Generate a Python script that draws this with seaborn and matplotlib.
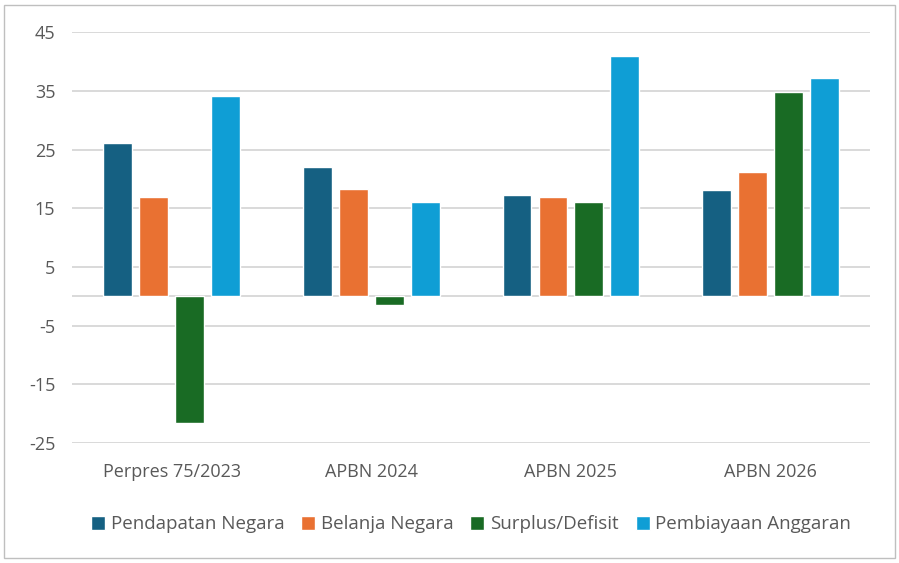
import pandas as pd
import matplotlib.pyplot as plt
import seaborn as sns
from matplotlib.patches import Rectangle

# data
groups = ['Perpres 75/2023', 'APBN 2024', 'APBN 2025', 'APBN 2026']
series = ['Pendapatan Negara', 'Belanja Negara', 'Surplus/Defisit', 'Pembiayaan Anggaran']
pendapatan = [26.1, 22.0, 17.2, 18.1]
belanja = [16.9, 18.2, 16.9, 21.1]
surplus = [-21.5, -1.5, 16.0, 34.8]
pembiayaan = [34.1, 16.0, 40.9, 37.1]
yticks = [45, 35, 25, 15, 5, -5, -15, -25]

colors = ['#156082', '#E97132', '#196B24', '#0F9ED5']

rows = []
for name, vals in zip(series, [pendapatan, belanja, surplus, pembiayaan]):
    for g, v in zip(groups, vals):
        rows.append({'group': g, 'series': name, 'value': v})
df = pd.DataFrame(rows)

sns.set_theme(style='white')
plt.rcParams['font.family'] = ['Open Sans', 'DejaVu Sans']
plt.rcParams['axes.unicode_minus'] = False

fig = plt.figure(figsize=(8.99, 5.63), dpi=100)
ax = fig.add_axes([0.08, 0.213, 0.888, 0.73])

sns.barplot(data=df, x='group', y='value', hue='series', order=groups,
            hue_order=series, palette=colors, width=0.72, gap=0.2,
            saturation=1, errorbar=None, ax=ax, zorder=3)

ax.set_ylim(-25, 45)
ax.set_yticks(yticks)
ax.set_xlim(-0.5, 3.5)
ax.grid(axis='y', color='#d9d9d9', linewidth=1.4, zorder=0)
ax.axhline(0, color='#d9d9d9', linewidth=1.4, zorder=1)
for s in ax.spines.values():
    s.set_visible(False)
ax.set_xlabel('')
ax.set_ylabel('')
ax.tick_params(axis='y', labelsize=13, colors='#595959', length=0, pad=12)
ax.tick_params(axis='x', labelsize=13, colors='#595959', length=0, pad=14)

leg = ax.legend(loc='upper center', bbox_to_anchor=(0.5, -0.135), ncol=4,
                frameon=False, fontsize=13.5, handlelength=0.75, handleheight=0.75,
                handletextpad=0.3, columnspacing=0.9)
for t in leg.get_texts():
    t.set_color('#595959')

fig.patches.append(Rectangle((0.005, 0.008), 0.99, 0.984, transform=fig.transFigure,
                             fill=False, edgecolor='#bfbfbf', linewidth=1))

plt.savefig('out.png', dpi=100)
